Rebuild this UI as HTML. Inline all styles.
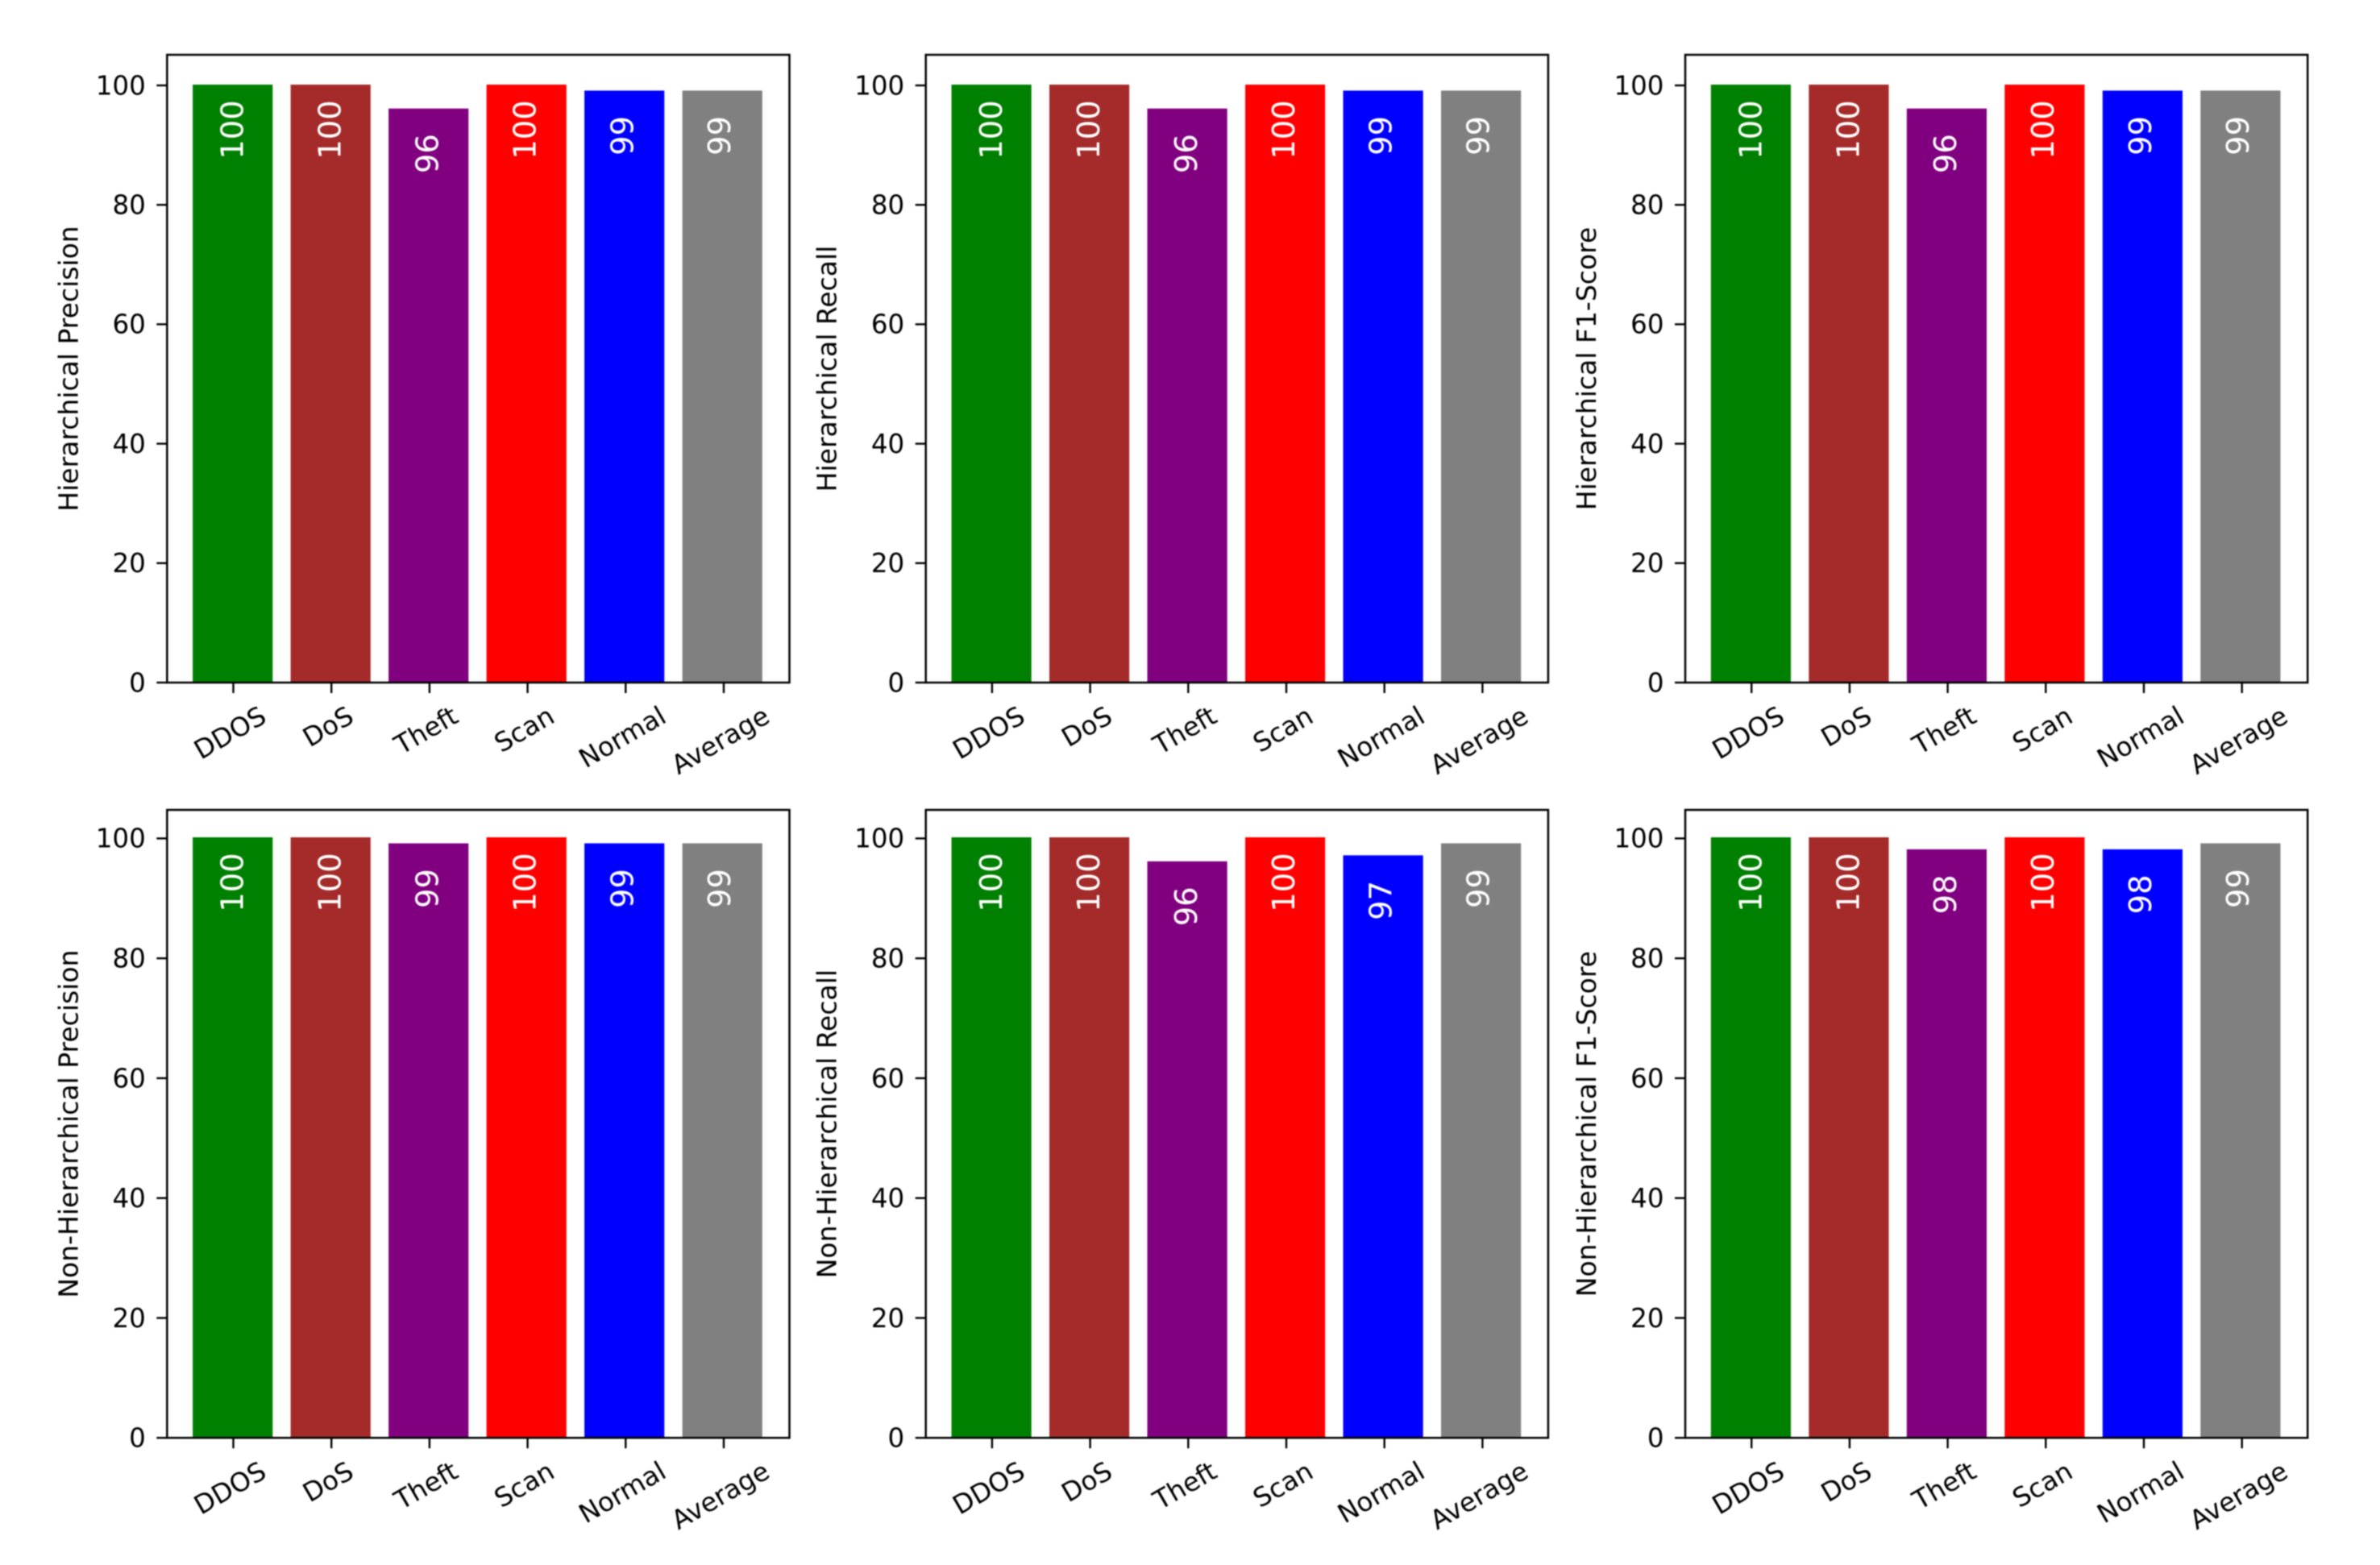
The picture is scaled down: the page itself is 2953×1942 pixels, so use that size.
<!DOCTYPE html>
<html lang="en">
<head>
<meta charset="utf-8">
<title>Hierarchical and Non-Hierarchical Classification Metrics</title>
<style>
  html, body { margin: 0; padding: 0; background: #ffffff; }
  svg { display: block; }
  text { font-family: "DejaVu Sans", "Liberation Sans", sans-serif; }
</style>
</head>
<body>
<svg id="figure" xmlns="http://www.w3.org/2000/svg" width="2953" height="1942" viewBox="0 0 2953 1942">
  <rect x="0" y="0" width="2953" height="1942" fill="#ffffff"></rect>
  <g id="root" style="filter:blur(0.8px)"></g>
</svg>
<script>
const categories = ['DDOS', 'DoS', 'Theft', 'Scan', 'Normal', 'Average'];
const barColors = ['#008000', '#a52a2a', '#800080', '#ff0000', '#0000ff', '#808080'];
const yTickValues = [0, 20, 40, 60, 80, 100];
const hierarchicalPrecision = [100, 100, 96, 100, 99, 99];
const hierarchicalRecall = [100, 100, 96, 100, 99, 99];
const hierarchicalF1 = [100, 100, 96, 100, 99, 99];
const nonHierarchicalPrecision = [100, 100, 99, 100, 99, 99];
const nonHierarchicalRecall = [100, 100, 96, 100, 97, 99];
const nonHierarchicalF1 = [100, 100, 98, 100, 98, 99];
const panelTitles = ['Hierarchical Precision', 'Hierarchical Recall', 'Hierarchical F1-Score',
  'Non-Hierarchical Precision', 'Non-Hierarchical Recall', 'Non-Hierarchical F1-Score'];
const panelSeries = [hierarchicalPrecision, hierarchicalRecall, hierarchicalF1,
  nonHierarchicalPrecision, nonHierarchicalRecall, nonHierarchicalF1];

const NS = 'http://www.w3.org/2000/svg';
const root = document.getElementById('root');

const columnLeft = [207.3, 1148.7, 2091];
const axesWidth = 772.2;
const rowGeometry = [
  { top: 68, zero: 847, tick100: 106, bar100: 105 },
  { top: 1005, zero: 1784.2, tick100: 1040.4, bar100: 1039 }
];
const tickFont = 32.5;
const titleFont = 33;
const valueFont = 38.5;

function make(tag, attrs, parent) {
  const el = document.createElementNS(NS, tag);
  for (const key in attrs) el.setAttribute(key, attrs[key]);
  parent.appendChild(el);
  return el;
}
function slug(s) { return s.toLowerCase().replace(/[^a-z0-9]+/g, '-'); }

// axis functions
function xCenter(i, left) { return left + 82.2 + 121.7 * i; }
function xBarCenter(i, left) { return left + 81.4 + 121.5 * i; }
function xValueCenter(i, left) { return left + 80.4 + 120.9 * i; }
function yTick(v, g) { return g.zero - (g.zero - g.tick100) * v / 100; }
function yBar(v, g) { return g.zero - (g.zero - g.bar100) * v / 100; }

panelSeries.forEach(function (series, p) {
  const col = p % 3;
  const row = Math.floor(p / 3);
  const left = columnLeft[col];
  const g = rowGeometry[row];
  const title = panelTitles[p];
  const key = slug(title);

  const panel = make('g', {}, root);
  
  

  series.forEach(function (value, i) {
    const cx = xBarCenter(i, left);
    const top = yBar(value, g);
    const bar = make('rect', {
      x: cx - 49.6, y: top, width: 99.2, height: g.zero - top, fill: barColors[i]
    }, panel);
    
    

    const labelY = top + 56;
    const labelX = xValueCenter(i, left);
    const label = make('text', {
      x: 0, y: 0, fill: '#ffffff', 'font-size': valueFont, 'text-anchor': 'middle',
      transform: 'translate(' + (labelX + valueFont * 0.3645) + ',' + labelY + ') rotate(-90)'
    }, panel);
    label.textContent = String(value);
    
    
  });

  const frame = make('rect', {
    x: left, y: g.top, width: axesWidth, height: g.zero - g.top,
    fill: 'none', stroke: '#000000', 'stroke-width': 2.5
  }, panel);
  
  

  yTickValues.forEach(function (v) {
    const y = yTick(v, g);
    const tick = make('line', {
      x1: left - 13, x2: left, y1: y, y2: y, stroke: '#000000', 'stroke-width': 2.4
    }, panel);
    
    

    const tl = make('text', {
      x: left - 26.5, y: y + tickFont * 0.3645 - 0.5, fill: '#000000',
      'font-size': tickFont, 'text-anchor': 'end'
    }, panel);
    tl.textContent = String(v);
    
    
  });

  categories.forEach(function (name, i) {
    const x = xCenter(i, left);
    const tick = make('line', {
      x1: x, x2: x, y1: g.zero, y2: g.zero + 13, stroke: '#000000', 'stroke-width': 2.4
    }, panel);
    
    

    const tl = make('text', {
      x: 0, y: 0, fill: '#000000', 'font-size': tickFont, 'text-anchor': 'middle'
    }, panel);
    tl.textContent = name;
    
    
    const len = tl.getComputedTextLength();
    const boxH = len * 0.5 + tickFont * 0.76 * 0.866;
    const cy = g.zero + 27 + boxH / 2;
    const cx = x - 4.5;
    const baselineShift = tickFont * 0.3645;
    const dx = baselineShift * 0.5;
    const dy = baselineShift * 0.866;
    tl.setAttribute('transform', 'translate(' + (cx + dx) + ',' + (cy + dy) + ') rotate(-30)');
  });

  const axisTitle = make('text', {
    x: 0, y: 0, fill: '#000000', 'font-size': titleFont, 'text-anchor': 'middle',
    transform: 'translate(' + (left - 111) + ',' + ((g.top + g.zero) / 2) + ') rotate(-90)'
  }, panel);
  axisTitle.textContent = title;
  
  
});
</script>
</body>
</html>
